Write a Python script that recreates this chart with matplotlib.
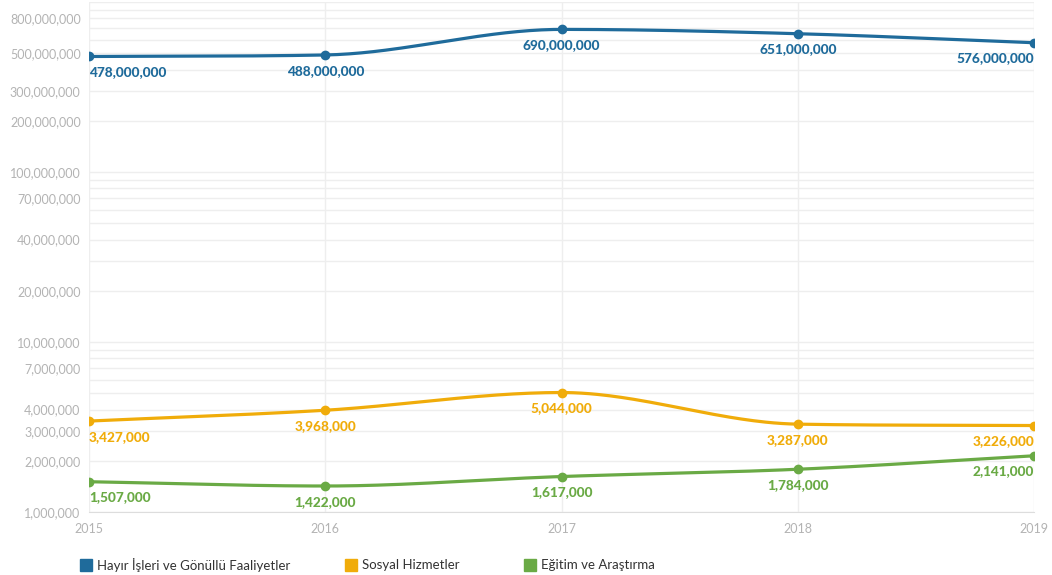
import numpy as np
import matplotlib
matplotlib.use("Agg")
import matplotlib.pyplot as plt
from matplotlib.ticker import FixedLocator, NullFormatter, FuncFormatter

years = [2015, 2016, 2017, 2018, 2019]
hayir = [478000000, 488000000, 690000000, 651000000, 576000000]
sosyal = [3427000, 3968000, 5044000, 3287000, 3226000]
egitim = [1507000, 1422000, 1617000, 1784000, 2141000]
names = ["Hayır İşleri ve Gönüllü Faaliyetler", "Sosyal Hizmetler", "Eğitim ve Araştırma"]
colors = ["#1f6b9b", "#f0ac0a", "#6aaa45"]
labeled_ticks = [1e6, 2e6, 3e6, 4e6, 7e6, 1e7, 2e7, 4e7, 7e7, 1e8, 2e8, 3e8, 5e8, 8e8]

plt.rcParams["font.family"] = ["Lato", "DejaVu Sans"]


def monotone(x, y, n=60):
    # monotone cubic (Fritsch-Carlson) used for the smooth line
    x = np.asarray(x, float)
    y = np.asarray(y, float)
    h = np.diff(x)
    d = np.diff(y) / h
    m = np.zeros_like(y)
    m[0], m[-1] = d[0], d[-1]
    for i in range(1, len(y) - 1):
        if d[i - 1] * d[i] <= 0:
            m[i] = 0
        else:
            m[i] = (h[i - 1] * d[i] + h[i] * d[i - 1]) / (h[i - 1] + h[i])
            m[i] = np.sign(m[i]) * min(abs(m[i]), 3 * min(abs(d[i - 1]), abs(d[i])))
    xs, ys = [], []
    for i in range(len(h)):
        t = np.linspace(0, 1, n)
        h00 = 2 * t**3 - 3 * t**2 + 1
        h10 = t**3 - 2 * t**2 + t
        h01 = -2 * t**3 + 3 * t**2
        h11 = t**3 - t**2
        xs.append(x[i] + t * h[i])
        ys.append(h00 * y[i] + h10 * h[i] * m[i] + h01 * y[i + 1] + h11 * h[i] * m[i + 1])
    return np.concatenate(xs), np.concatenate(ys)


fig = plt.figure(figsize=(10.52, 5.75), dpi=100)
ax = fig.add_axes([89 / 1052, 63 / 575, 945 / 1052, 510 / 575])
ax.set_yscale("log")
ax.set_ylim(1e6, 1e9)
ax.set_xlim(2015, 2019)

minor = [k * 10**e for e in range(6, 9) for k in range(1, 10)] + [1e9]
ax.yaxis.set_major_locator(FixedLocator(labeled_ticks))
ax.yaxis.set_minor_locator(FixedLocator(minor))
ax.yaxis.set_minor_formatter(NullFormatter())
ax.yaxis.set_major_formatter(FuncFormatter(lambda v, p: f"{v:,.0f}"))
ax.set_xticks(years)
ax.grid(True, which="both", axis="y", color="#eeeeee", lw=1)
ax.grid(True, axis="x", color="#eeeeee", lw=1)
ax.tick_params(which="both", length=0)
ax.tick_params(axis="y", labelsize=9, labelcolor="#b3b3b3", pad=6)
ax.tick_params(axis="x", labelsize=9, labelcolor="#b3b3b3", pad=8)
for s in ["top", "right", "left"]:
    ax.spines[s].set_visible(False)
ax.spines["bottom"].set_color("#dddddd")
ax.set_axisbelow(True)

for vals, c in zip([hayir, sosyal, egitim], colors):
    xs, ly = monotone(years, np.log10(vals))
    ax.plot(xs, 10**ly, color=c, lw=2.3, solid_capstyle="round", zorder=3)
    ax.plot(years, vals, "o", color=c, ms=6, zorder=4)
    for i, (x, v) in enumerate(zip(years, vals)):
        ha = "left" if i == 0 else ("right" if i == len(years) - 1 else "center")
        ax.annotate(f"{v:,}", (x, v), xytext=(0, -7), textcoords="offset points",
                    ha=ha, va="top", color=c, fontsize=9.8, fontweight=900, zorder=5,
                    clip_on=False)

leg_x = [80, 345, 524]
for name, c, lx in zip(names, colors, leg_x):
    fig.patches.append(plt.Rectangle((lx / 1052, 4 / 575), 12 / 1052, 12 / 575,
                                     transform=fig.transFigure, color=c))
    fig.text((lx + 17) / 1052, 10 / 575, name, fontsize=9.5, color="#333333", va="center")

fig.savefig("out.png", dpi=100)
